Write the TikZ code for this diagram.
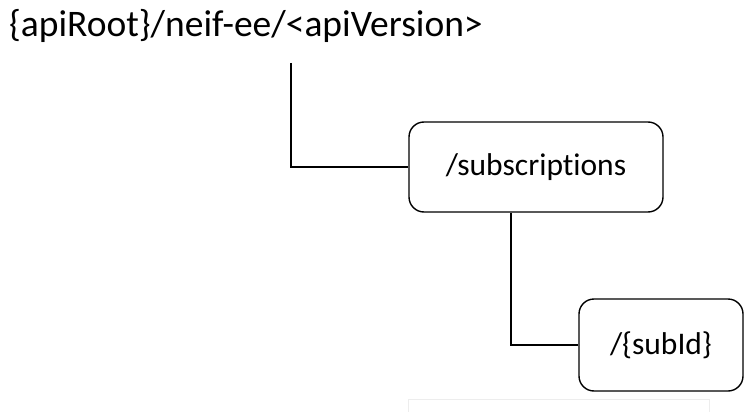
\documentclass[tikz,border=0pt]{standalone}
\usepackage{fontspec}
\setmainfont{Carlito}[Ligatures={NoCommon}]
\usepackage{tikz}
\usetikzlibrary{positioning, calc}

\tikzset{
  resbox/.style={draw=black, line width=1.4pt, rounded corners=15pt, fill=white,
    inner sep=0pt, font=\fontsize{31.5}{36}\selectfont},
  branch/.style={draw=black, line width=1.4pt},
}

\begin{document}
\begin{tikzpicture}[x=1pt, y=-1pt]
  \useasboundingbox (0,0) rectangle (744,412);

  % Root of the resource tree
  \node[anchor=base west, inner sep=0pt, font=\fontsize{37.5}{42}\selectfont] (root) at (9,37)
    {\{apiRoot\}/neif-ee/<apiVersion>};
  \coordinate (rootstem) at (291,63);

  % Resources
  \node[resbox, minimum width=254pt, minimum height=90pt] (subs) at (536,167) {/subscriptions};
  \node[resbox, minimum width=164pt, minimum height=92pt] (subid) at (661,345) {/\{subId\}};

  % Tree branches
  \draw[branch] (rootstem) |- (subs.west);
  \draw[branch] ([xshift=-25pt]subs.south) |- (subid.west);

  % faint frame at the bottom
  \draw[black!7, line width=1pt] (408,412) -- (408,399) -- (709,399) -- (709,412);
\end{tikzpicture}
\end{document}
